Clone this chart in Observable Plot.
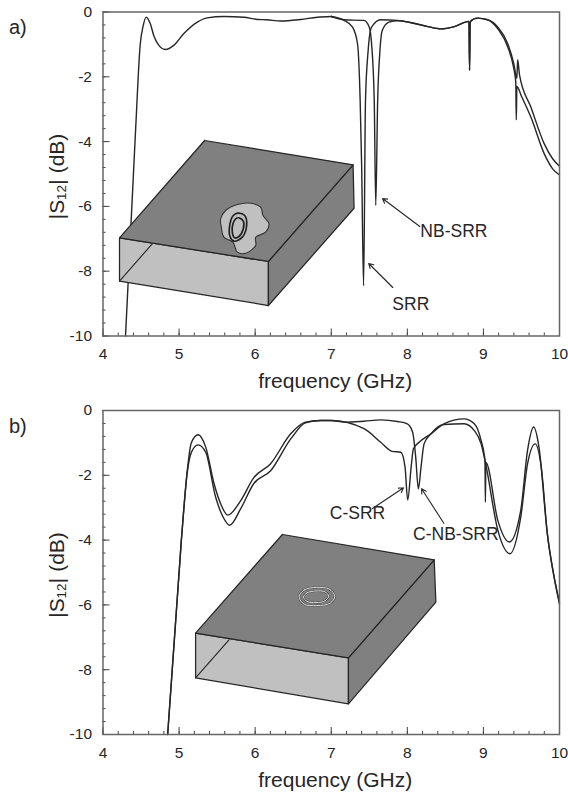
<!DOCTYPE html>
<html><head><meta charset="utf-8">
<style>html,body{margin:0;padding:0;background:#fff}svg{display:block}</style>
<script src="https://cdn.jsdelivr.net/npm/d3@7"></script>
<script src="https://cdn.jsdelivr.net/npm/@observablehq/plot@0.6"></script>
</head><body><div id="c"></div>
<script>
const majorX=[4,5,6,7,8,9,10];
const minorX=d3.range(4,10.01,0.2);
const majorY=[0,-2,-4,-6,-8,-10];
const minorY=d3.range(0,-10.01,-0.4);

// Panel a
const aCommonF=[4.296,4.428,4.49,4.524,4.568,4.62,4.668,4.735,4.82,4.93,5.06,5.24,5.37,5.59,5.85,6.03,6.15,6.335,6.6,6.82,7.0];
const aCommonD=[-10,-3.66,-0.98,-0.47,-0.16,-0.35,-0.73,-1.03,-1.157,-1.03,-0.67,-0.31,-0.18,-0.14,-0.16,-0.23,-0.24,-0.28,-0.23,-0.16,-0.14];
const aMidF=[8.05,8.27,8.44,8.62,8.81,8.818,8.826,8.92,9.055];
const aMidD=[-0.33,-0.45,-0.52,-0.45,-0.29,-1.8,-0.3,-0.19,-0.24];
const srrF=[7.17,7.28,7.345,7.38,7.40,7.425,7.45,7.485,7.53,7.65,7.87, 9.19,9.32,9.40,9.425,9.432,9.44,9.5,9.625,9.8,9.91,10];
const srrD=[-0.26,-0.47,-0.98,-2.73,-4.8,-8.45,-2.73,-1.19,-0.47,-0.24,-0.26, -0.52,-1.08,-1.75,-2.15,-3.33,-2.3,-2.6,-3.25,-4.38,-4.84,-5.03];
const nbF=[7.17,7.43,7.5,7.53,7.565,7.585,7.61,7.64,7.67,7.76,7.87, 9.19,9.32,9.40,9.44,9.45,9.475,9.625,9.8,9.91,10];
const nbD=[-0.24,-0.26,-0.47,-0.98,-2.73,-5.97,-2.73,-1.19,-0.57,-0.31,-0.27, -0.47,-0.98,-1.6,-2.05,-1.47,-1.95,-2.94,-4.07,-4.53,-4.76];

// Panel b
const cSrrF=[4.85,5.03,5.108,5.16,5.25,5.35,5.46,5.55,5.64,5.81,5.98,6.2,6.47,6.66,6.86,7.0,7.43,7.65,7.8,7.915,7.97,8.005,8.05,8.08,8.155,8.31,8.48,8.745,8.88,8.97,9.02,9.026,9.032,9.19,9.34,9.49,9.58,9.66,9.73,9.84,9.93,10];
const cSrrD=[-10,-4,-1.85,-1.0,-0.75,-1.13,-2.26,-2.9,-3.23,-2.78,-2.08,-1.65,-0.71,-0.36,-0.31,-0.31,-0.56,-0.98,-1.26,-1.29,-1.75,-2.76,-1.75,-1.18,-0.98,-0.72,-0.41,-0.26,-0.41,-0.93,-1.54,-2.83,-1.6,-3.4,-4.06,-3.09,-1.23,-0.51,-1.13,-3.8,-5.15,-5.92];
const cNbF=[4.85,5.03,5.108,5.16,5.25,5.35,5.48,5.57,5.665,5.81,5.98,6.2,6.47,6.66,6.86,7.0,7.17,7.43,7.65,7.87,8.0,8.07,8.11,8.145,8.18,8.22,8.31,8.48,8.745,8.88,8.97,9.03,9.19,9.35,9.49,9.58,9.68,9.76,9.84,9.93,10];
const cNbD=[-10,-4,-1.9,-1.3,-1.06,-1.29,-2.67,-3.25,-3.54,-3.03,-2.26,-1.87,-0.87,-0.38,-0.31,-0.31,-0.36,-0.33,-0.29,-0.34,-0.41,-0.67,-1.44,-2.42,-1.75,-1.03,-0.72,-0.43,-0.41,-0.62,-1.03,-1.65,-3.7,-4.42,-3.3,-1.65,-1.03,-1.75,-3.8,-5.15,-5.98];

// Insets (in chart units)
const aTopF=[5.336,7.287,6.174,4.217], aTopD=[-3.966,-4.716,-7.70,-6.969];
const aSideF=[7.287,7.30,6.174,6.174], aSideD=[-4.716,-6.056,-9.059,-7.70];
const aFrontF=[4.217,6.174,6.174,4.217], aFrontD=[-6.969,-7.70,-9.059,-8.309];
const aInF=[4.217,4.647], aInD=[-8.309,-7.154];
const aBlobF=[5.546,5.612,5.766,5.941,6.072,6.103,6.182,6.138,6.007,6.007,5.875,5.766,5.708,5.589,5.555];
const aBlobD=[-6.383,-6.127,-5.941,-5.901,-6.025,-6.281,-6.537,-6.796,-6.951,-7.207,-7.444,-7.413,-7.105,-6.951,-6.642];
const aRing1F=[5.774,5.862,5.888,5.831,5.721,5.669,5.669,5.713], aRing1D=[-6.209,-6.280,-6.589,-6.949,-7.073,-6.929,-6.538,-6.280];
const aRing2F=[5.787,5.844,5.844,5.787,5.730,5.699,5.708,5.743], aRing2D=[-6.352,-6.455,-6.692,-6.929,-6.970,-6.795,-6.538,-6.383];

const bTopF=[6.358,8.353,7.226,5.217], bTopD=[-3.827,-4.609,-7.634,-6.873];
const bSideF=[8.353,8.375,7.226,7.226], bSideD=[-4.609,-5.916,-9.054,-7.634];
const bFrontF=[5.217,7.226,7.226,5.217], bFrontD=[-6.873,-7.634,-9.054,-8.251];
const bInF=[5.217,5.656], bInD=[-8.251,-7.078];
const bRing1F=[6.577,6.643,6.809,6.972,7.046,6.985,6.809,6.643], bRing1D=[-5.75,-5.54,-5.46,-5.51,-5.73,-5.95,-6.02,-5.98];
const bRing2F=[6.635,6.68,6.80,6.92,6.965,6.92,6.80,6.68], bRing2D=[-5.76,-5.63,-5.57,-5.60,-5.73,-5.87,-5.93,-5.89];

const aLabels=[{t:"NB-SRR",f:8.612,d:-6.775},{t:"SRR",f:8.046,d:-9.03}];
const bLabels=[{t:"C-SRR",f:7.345,d:-3.19},{t:"C-NB-SRR",f:8.638,d:-3.838}];
const aArrows=[{f1:8.164,d1:-6.62,f2:7.674,d2:-5.756},{f1:7.809,d1:-8.503,f2:7.493,d2:-7.762}];
const bArrows=[{f1:7.542,d1:-3.025,f2:7.95,d2:-2.386},{f1:8.48,d1:-3.478,f2:8.187,d2:-2.417}];

const ink="#262626", font="'Liberation Sans',Arial,sans-serif";
const curve=(F,D)=>Plot.line(D,{x:F,y:D,stroke:ink,strokeWidth:1.4,curve:"monotone-x"});
const poly=(F,D,fill)=>Plot.line(F.map((_,i)=>i).concat(0),{x:i=>F[i],y:i=>D[i],fill,stroke:ink,strokeWidth:1.25,strokeLinejoin:"round"});
const ring=(F,D,stroke,w)=>Plot.line(F.map((_,i)=>i),{x:i=>F[i],y:i=>D[i],stroke,strokeWidth:w,curve:"catmull-rom-closed"});
const blob=(F,D)=>Plot.line(F.map((_,i)=>i),{x:i=>F[i],y:i=>D[i],fill:"#c0c0c0",stroke:"#333",strokeWidth:1.1,curve:"catmull-rom-closed"});

function panel({height,marginTop,marginBottom,tag,inset,curves,labels,arrows}){
  return Plot.plot({
    width:568,height,marginLeft:102.5,marginRight:9,marginTop,marginBottom,
    style:{background:"#fff",fontFamily:font,color:ink,overflow:"visible"},
    x:{domain:[4,10]},y:{domain:[-10,0]},
    marks:[
      ...curves,
      ...inset,
      Plot.axisX({ticks:minorX,tickSize:-3,tickFormat:()=>"",stroke:"#444",label:null}),
      Plot.axisX({ticks:majorX,tickSize:-7,tickPadding:19,tickFormat:d=>String(d),fontSize:15.5,stroke:"#444",label:null}),
      Plot.axisY({ticks:minorY,tickSize:-3,tickFormat:()=>"",stroke:"#444",label:null}),
      Plot.axisY({ticks:majorY,tickSize:-7,tickPadding:18,tickFormat:d=>String(d),fontSize:15.5,stroke:"#444",label:null}),
      Plot.frame({stroke:"#666",strokeWidth:1.5}),
      Plot.arrow(arrows,{x1:"f1",y1:"d1",x2:"f2",y2:"d2",bend:0,stroke:ink,strokeWidth:1.1,headLength:7}),
      Plot.text(labels,{x:"f",y:"d",text:"t",fontSize:17.5,fill:ink}),
      Plot.text(["frequency (GHz)"],{frameAnchor:"bottom",dx:4,dy:52,fontSize:21,fill:ink}),
      Plot.text(["|S₁₂| (dB)"],{frameAnchor:"left",textAnchor:"middle",lineAnchor:"middle",dx:-46,dy:2.5,rotate:-90,fontSize:21,fill:ink}),
      Plot.text([tag],{frameAnchor:"top-left",dx:-94,dy:8,fontSize:20,fill:ink})
    ]
  });
}

const a=panel({height:395,marginTop:11.5,marginBottom:59.5,tag:"a)",
  inset:[poly(aFrontF,aFrontD,"#c0c0c0"),poly(aSideF,aSideD,"#808080"),poly(aTopF,aTopD,"#808080"),
    Plot.line(aInD,{x:aInF,y:aInD,stroke:ink,strokeWidth:1.1}),
    blob(aBlobF,aBlobD),ring(aRing1F,aRing1D,"#222",1.7),ring(aRing2F,aRing2D,"#222",1.7)],
  curves:[curve(aCommonF,aCommonD),
    curve([7.0,...srrF.slice(0,11),...aMidF,...srrF.slice(11)],[-0.14,...srrD.slice(0,11),...aMidD,...srrD.slice(11)]),
    curve([7.0,...nbF.slice(0,11),...aMidF,...nbF.slice(11)],[-0.14,...nbD.slice(0,11),...aMidD,...nbD.slice(11)])],
  labels:aLabels,arrows:aArrows});
const b=panel({height:398,marginTop:15,marginBottom:59,tag:"b)",
  inset:[poly(bFrontF,bFrontD,"#c0c0c0"),poly(bSideF,bSideD,"#808080"),poly(bTopF,bTopD,"#808080"),
    Plot.line(bInD,{x:bInF,y:bInD,stroke:ink,strokeWidth:1.1}),
    ring(bRing1F,bRing1D,"#4a4a4a",2),ring(bRing1F,bRing1D,"#eee",0.9),
    ring(bRing2F,bRing2D,"#4a4a4a",2),ring(bRing2F,bRing2D,"#eee",0.9)],
  curves:[curve(cSrrF,cSrrD),curve(cNbF,cNbD)],
  labels:bLabels,arrows:bArrows});
document.getElementById("c").append(a,b);
</script></body></html>
